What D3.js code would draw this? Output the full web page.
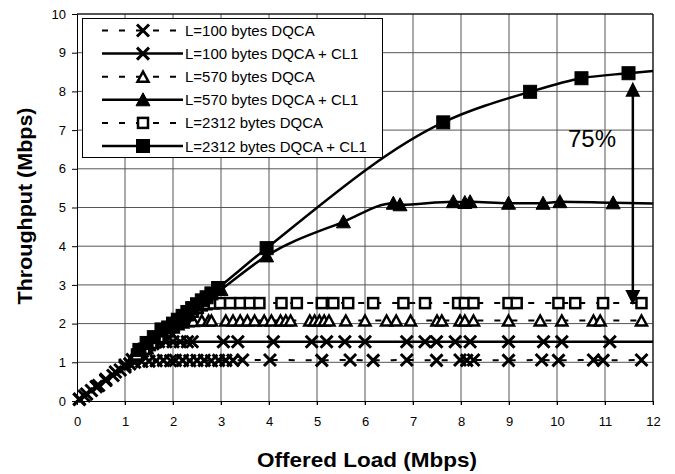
<!DOCTYPE html>
<html>
<head>
<meta charset="utf-8">
<script src="https://cdn.jsdelivr.net/npm/d3@7"></script>
<style>
body { margin: 0; background: #fff; }
svg { font-family: "Liberation Sans", Arial, sans-serif; }
</style>
</head>
<body>
<svg width="675" height="474"></svg>
<script>
// offered load vs throughput, one array of [load, throughput] per series
var l100 = [[0.05,0.04],[0.15,0.13],[0.3,0.27],[0.45,0.4],[0.6,0.53],[0.75,0.66],[0.9,0.8],[1.0,0.88],[1.1,0.96],[1.2,1.0],[1.35,1.02],[1.5,1.03],[1.65,1.04],[1.8,1.05],[1.95,1.04],[2.05,1.05],[2.2,1.05],[2.35,1.04],[2.5,1.05],[2.65,1.05],[2.8,1.04],[2.95,1.05],[3.1,1.05],[3.25,1.05],[3.45,1.06],[4.02,1.06],[5.1,1.05],[5.69,1.06],[6.17,1.05],[6.87,1.06],[7.49,1.05],[7.98,1.06],[8.12,1.05],[8.26,1.06],[8.99,1.05],[9.68,1.06],[10.03,1.05],[10.76,1.06],[10.96,1.05],[11.76,1.06]];
var l100cl1 = [[0.05,0.05],[0.2,0.18],[0.4,0.37],[0.6,0.56],[0.8,0.75],[1.0,0.93],[1.15,1.07],[1.3,1.22],[1.45,1.36],[1.58,1.48],[1.7,1.53],[1.85,1.53],[2.0,1.53],[2.15,1.53],[2.3,1.53],[2.4,1.53],[3.05,1.53],[3.35,1.53],[4.09,1.53],[4.89,1.53],[5.2,1.53],[5.58,1.53],[6.0,1.53],[6.87,1.53],[7.25,1.53],[7.49,1.53],[7.88,1.53],[8.19,1.53],[8.99,1.53],[9.72,1.53],[10.1,1.53],[11.1,1.53],[12.4,1.53]];
var l570 = [[1.15,1.1],[1.3,1.24],[1.45,1.38],[1.6,1.52],[1.75,1.66],[1.9,1.8],[2.0,1.9],[2.1,1.98],[2.2,2.03],[2.3,2.06],[2.42,2.07],[2.6,2.08],[2.74,2.08],[2.8,2.08],[3.1,2.08],[3.25,2.08],[3.4,2.08],[3.55,2.08],[3.7,2.08],[3.9,2.08],[4.05,2.08],[4.24,2.08],[4.35,2.08],[4.45,2.08],[4.85,2.08],[4.95,2.08],[5.05,2.08],[5.15,2.08],[5.25,2.08],[5.6,2.08],[6.0,2.08],[6.45,2.08],[6.65,2.08],[6.95,2.08],[7.5,2.08],[7.6,2.08],[7.98,2.08],[8.08,2.08],[8.26,2.08],[8.99,2.08],[9.65,2.08],[10.1,2.08],[10.76,2.08],[10.9,2.08],[11.76,2.08]];
var l570cl1 = [[1.2,1.15],[1.35,1.3],[1.5,1.45],[1.65,1.6],[1.8,1.74],[1.9,1.84],[2.0,1.94],[2.1,2.04],[2.2,2.13],[2.3,2.23],[2.4,2.32],[2.5,2.42],[2.6,2.52],[2.7,2.61],[2.8,2.7],[3.0,2.88],[3.95,3.75],[5.55,4.63],[6.59,5.11],[6.73,5.07],[7.84,5.15],[8.08,5.13],[8.19,5.15],[8.99,5.11],[9.71,5.11],[10.06,5.15],[11.17,5.12],[12.4,5.1]];
var l2312 = [[1.25,1.2],[1.4,1.35],[1.55,1.5],[1.7,1.65],[1.85,1.8],[2.0,1.95],[2.1,2.04],[2.2,2.13],[2.3,2.22],[2.4,2.31],[2.5,2.4],[2.6,2.47],[2.7,2.5],[2.85,2.52],[2.98,2.53],[3.19,2.53],[3.4,2.53],[3.6,2.53],[3.8,2.53],[4.26,2.53],[4.58,2.53],[5.1,2.53],[5.34,2.53],[5.65,2.53],[6.17,2.53],[6.8,2.53],[7.25,2.53],[7.94,2.53],[8.08,2.53],[8.26,2.53],[8.99,2.53],[9.16,2.53],[10.03,2.53],[10.38,2.53],[10.96,2.53],[11.76,2.53]];
var l2312cl1 = [[1.3,1.32],[1.45,1.5],[1.6,1.65],[1.76,1.85],[1.9,1.9],[2.0,2.0],[2.1,2.1],[2.2,2.2],[2.3,2.3],[2.4,2.4],[2.5,2.5],[2.6,2.6],[2.7,2.68],[2.8,2.78],[2.94,2.92],[3.95,3.95],[7.63,7.2],[9.44,7.99],[10.51,8.34],[11.49,8.47],[12.4,8.57]];

var seriesNames = ["L=100 bytes DQCA", "L=100 bytes DQCA + CL1", "L=570 bytes DQCA",
    "L=570 bytes DQCA + CL1", "L=2312 bytes DQCA", "L=2312 bytes DQCA + CL1"];
var xTicks = [0,1,2,3,4,5,6,7,8,9,10,11,12];
var yTicks = [0,1,2,3,4,5,6,7,8,9,10];

// the 75% gap arrow: load, from, to
var gapArrow = [11.58, 2.48, 8.25];
var gapLabel = "75%";

var svg = d3.select("svg");
var x = d3.scaleLinear().domain([0, 12]).range([77, 653]);
var y = d3.scaleLinear().domain([0, 10]).range([401, 14]);

var series = [
    {name: seriesNames[0], data: l100, dash: true, shape: "x"},
    {name: seriesNames[1], data: l100cl1, dash: false, shape: "x"},
    {name: seriesNames[2], data: l570, dash: true, shape: "tri-open"},
    {name: seriesNames[3], data: l570cl1, dash: false, shape: "tri"},
    {name: seriesNames[4], data: l2312, dash: true, shape: "sq-open"},
    {name: seriesNames[5], data: l2312cl1, dash: false, shape: "sq"}
];

svg.append("defs").append("clipPath").attr("id", "plot")
  .append("rect").attr("x", 77).attr("y", 14).attr("width", 576).attr("height", 387);

// grid
svg.append("g").selectAll("line.v").data(xTicks.slice(1)).enter().append("line")
    .attr("x1", function(d) { return x(d); }).attr("x2", function(d) { return x(d); })
    .attr("y1", y(10)).attr("y2", y(0) + 4)
    .style("stroke", "#555").style("stroke-width", 1);
svg.append("g").selectAll("line.h").data(yTicks.slice(1)).enter().append("line")
    .attr("x1", x(0)).attr("x2", x(12))
    .attr("y1", function(d) { return y(d); }).attr("y2", function(d) { return y(d); })
    .style("stroke", "#555").style("stroke-width", 1);

// axes
var xAxis = svg.append("g").attr("transform", "translate(0," + y(0) + ")")
    .call(d3.axisBottom(x).tickValues(xTicks).tickSize(4).tickPadding(12));
var yAxis = svg.append("g").attr("transform", "translate(" + x(0) + ",0)")
    .call(d3.axisLeft(y).tickValues(yTicks).tickSize(5).tickPadding(6));
[xAxis, yAxis].forEach(function(a) {
    a.select(".domain").style("stroke", "#000");
    a.selectAll(".tick line").style("stroke", "#000");
    a.selectAll("text").style("font-size", "13px").style("fill", "#000")
        .style("font-family", "'Liberation Sans', Arial, sans-serif");
});

svg.append("line").attr("x1", x(0)).attr("x2", x(12)).attr("y1", y(10)).attr("y2", y(10)).style("stroke", "#000");
svg.append("line").attr("x1", x(12)).attr("x2", x(12)).attr("y1", y(10)).attr("y2", y(0)).style("stroke", "#000");

// markers
function drawMarker(g, shape) {
    if (shape == "x") {
        g.append("path").attr("d", "M-6,-6L6,6M-6,6L6,-6")
            .style("stroke", "#000").style("stroke-width", 3).style("fill", "none");
    } else if (shape == "tri" || shape == "tri-open") {
        g.append("path").attr("d", shape == "tri" ? "M0,-7L7,6H-7Z" : "M0,-5L5.5,5H-5.5Z")
            .style("fill", shape == "tri" ? "#000" : "#fff")
            .style("stroke", "#000").style("stroke-width", shape == "tri" ? 1 : 2.5)
            .style("stroke-linejoin", "miter");
    } else {
        var s = shape == "sq" ? 6.5 : 5;
        g.append("rect").attr("x", -s).attr("y", -s).attr("width", 2 * s).attr("height", 2 * s)
            .style("fill", shape == "sq" ? "#000" : "#fff")
            .style("stroke", "#000").style("stroke-width", shape == "sq" ? 1 : 2.5);
    }
}

var line = d3.line()
    .x(function(d) { return x(d[0]); })
    .y(function(d) { return y(d[1]); })
    .curve(d3.curveMonotoneX);

series.forEach(function(s) {
    var g = svg.append("g");
    g.append("path").datum(s.data)
        .attr("clip-path", "url(#plot)")
        .attr("d", line)
        .style("fill", "none").style("stroke", "#000")
        .style("stroke-width", s.dash ? 2 : 2.5)
        .style("stroke-dasharray", s.dash ? "6,11" : null);
    g.selectAll("g.m").data(s.data.filter(function(d) { return d[0] <= 12; }))
      .enter().append("g")
        .attr("transform", function(d) { return "translate(" + x(d[0]) + "," + y(d[1]) + ")"; })
        .each(function() { drawMarker(d3.select(this), s.shape); });
});

// arrow
var ax = x(gapArrow[0]), ay1 = y(gapArrow[1]), ay2 = y(gapArrow[2]);
svg.append("line").attr("x1", ax).attr("x2", ax).attr("y1", ay1 - 12).attr("y2", ay2 + 12)
    .style("stroke", "#000").style("stroke-width", 2.5);
svg.append("path").attr("d", "M" + ax + "," + ay2 + "l7.5,15h-15z").style("fill", "#000");
svg.append("path").attr("d", "M" + ax + "," + ay1 + "l7.5,-15h-15z").style("fill", "#000");
svg.append("text").attr("x", 592).attr("y", 147).attr("text-anchor", "middle")
    .style("font-size", "24px").text(gapLabel);

// legend
var legend = svg.append("g");
legend.append("rect").attr("x", 82.5).attr("y", 18.5).attr("width", 300).attr("height", 139)
    .style("fill", "#fff").style("stroke", "#000").style("stroke-width", 1);
series.forEach(function(s, i) {
    var ly = 30.5 + i * 23.1;
    legend.append("line").attr("x1", 102).attr("x2", 183).attr("y1", ly).attr("y2", ly)
        .style("stroke", "#000").style("stroke-width", s.dash ? 2 : 2.5)
        .style("stroke-dasharray", s.dash ? "6,11" : null);
    drawMarker(legend.append("g").attr("transform", "translate(143," + ly + ")"), s.shape);
    legend.append("text").attr("x", 185).attr("y", ly + 5.5).style("font-size", "15px").text(s.name);
});

// axis titles
svg.append("text").attr("x", 367).attr("y", 467).attr("text-anchor", "middle")
    .attr("textLength", 220).attr("lengthAdjust", "spacingAndGlyphs")
    .style("font-size", "21px").style("font-weight", "bold").text("Offered Load (Mbps)");
svg.append("text").attr("transform", "translate(32,206) rotate(-90)").attr("text-anchor", "middle")
    .attr("textLength", 197).attr("lengthAdjust", "spacingAndGlyphs")
    .style("font-size", "21px").style("font-weight", "bold").text("Throughput (Mbps)");
</script>
</body>
</html>
